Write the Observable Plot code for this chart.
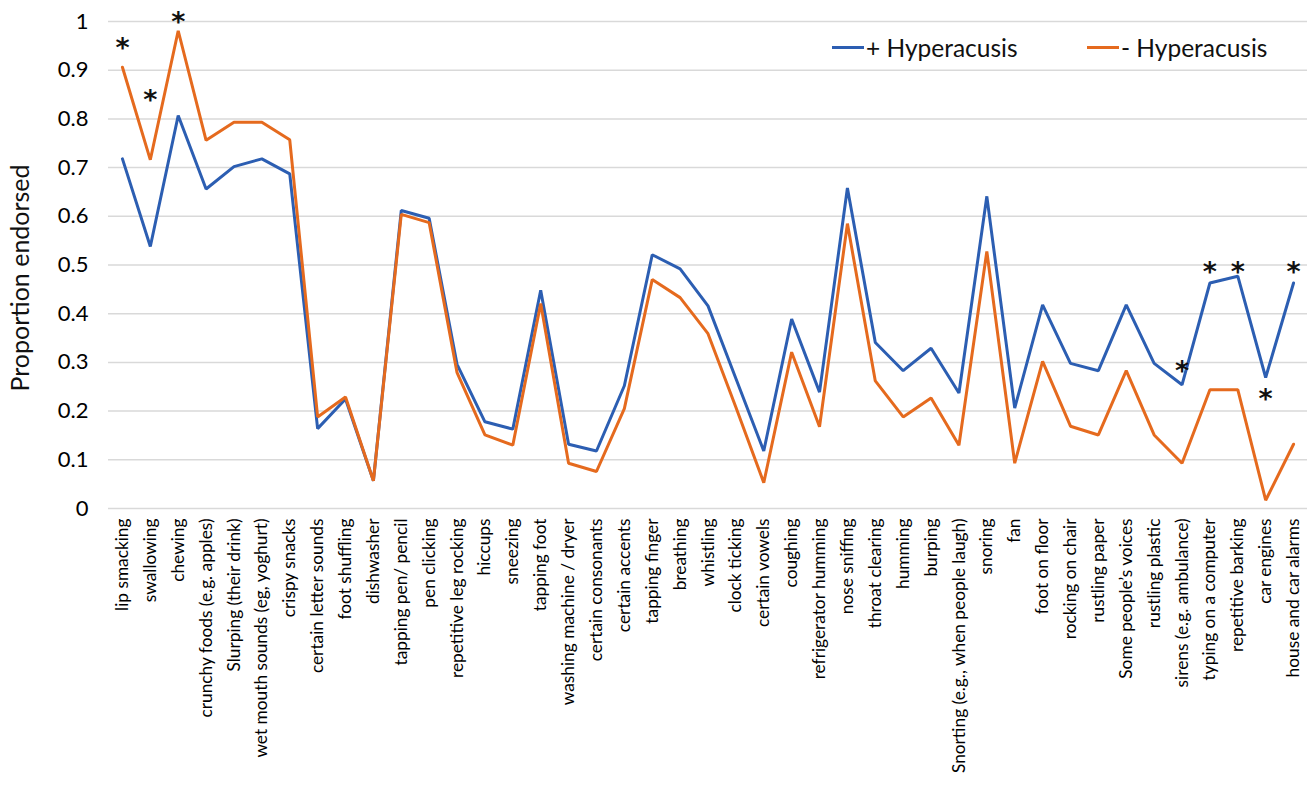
<!DOCTYPE html>
<html>
<head>
<meta charset="utf-8">
<script src="https://cdn.jsdelivr.net/npm/d3@7"></script>
<script src="https://cdn.jsdelivr.net/npm/@observablehq/plot@0.6"></script>
<style>
  html, body { margin: 0; padding: 0; background: #fff; }
  #wrap { position: relative; width: 1309px; height: 807px; font-family: Lato, "Open Sans", sans-serif; }
  .legend { position: absolute; top: 33px; left: 832px; width: 470px; display: flex; align-items: center; font-size: 24.5px; color: #111; white-space: nowrap; }
  .legend .item { display: flex; align-items: center; flex-shrink: 0; }
  .legend .item + .item { position: absolute; left: 255px; }
  .legend .swatch { width: 32px; height: 3px; margin-right: 2px; flex-shrink: 0; }
</style>
</head>
<body>
<div id="wrap"></div>
<script>
const categories = [
  "lip smacking", "swallowing", "chewing", "crunchy foods (e.g. apples)", "Slurping (their drink)",
  "wet mouth sounds (eg, yoghurt)", "crispy snacks", "certain letter sounds", "foot shuffling", "dishwasher",
  "tapping pen/ pencil", "pen clicking", "repetitive leg rocking", "hiccups", "sneezing",
  "tapping foot", "washing machine / dryer", "certain consonants", "certain accents", "tapping finger",
  "breathing", "whistling", "clock ticking", "certain vowels", "coughing",
  "refrigerator humming", "nose sniffing", "throat clearing", "humming", "burping",
  "Snorting (e.g., when people laugh)", "snoring", "fan", "foot on floor", "rocking on chair",
  "rustling paper", "Some people\u2019s voices", "rustling plastic", "sirens (e.g. ambulance)", "typing on a computer",
  "repetitive barking", "car engines", "house and car alarms"
];
const withHyperacusis = [
  0.718, 0.538, 0.807, 0.656, 0.702, 0.718, 0.687, 0.164, 0.225, 0.057,
  0.612, 0.596, 0.296, 0.178, 0.163, 0.448, 0.132, 0.118, 0.252, 0.521,
  0.492, 0.416, 0.267, 0.118, 0.389, 0.239, 0.658, 0.341, 0.283, 0.329,
  0.237, 0.641, 0.206, 0.418, 0.298, 0.283, 0.418, 0.298, 0.254, 0.463,
  0.477, 0.269, 0.463
];
const withoutHyperacusis = [
  0.906, 0.716, 0.981, 0.756, 0.793, 0.793, 0.757, 0.188, 0.229, 0.057,
  0.604, 0.587, 0.279, 0.151, 0.130, 0.421, 0.093, 0.076, 0.205, 0.470,
  0.433, 0.359, 0.208, 0.053, 0.321, 0.168, 0.585, 0.262, 0.188, 0.227,
  0.130, 0.528, 0.093, 0.302, 0.169, 0.151, 0.283, 0.151, 0.093, 0.244,
  0.244, 0.017, 0.132
];
const seriesNames = ["+ Hyperacusis", "- Hyperacusis"];
const seriesColors = ["#2c5eb2", "#e56a1e"];
const starCategories = ["lip smacking", "swallowing", "chewing", "sirens (e.g. ambulance)", "typing on a computer", "repetitive barking", "car engines", "house and car alarms"];
const starValues = [0.959, 0.853, 1.012, 0.296, 0.50, 0.50, 0.239, 0.50];
const yTicks = [0, 0.1, 0.2, 0.3, 0.4, 0.5, 0.6, 0.7, 0.8, 0.9, 1];

const rows = [];
categories.forEach((c, i) => {
  rows.push({cat: c, series: seriesNames[0], value: withHyperacusis[i]});
  rows.push({cat: c, series: seriesNames[1], value: withoutHyperacusis[i]});
});
const stars = starCategories.map((c, i) => ({cat: c, value: starValues[i]}));

const chart = Plot.plot({
  width: 1309,
  height: 807,
  marginLeft: 108,
  marginRight: 2,
  marginTop: 21,
  marginBottom: 299,
  style: {fontFamily: "Lato, 'Open Sans', sans-serif", fontSize: "17px", color: "#000", background: "#fff"},
  x: {type: "point", domain: categories, padding: 0.5, label: null},
  y: {domain: [0, 1], ticks: yTicks, label: null},
  color: {domain: seriesNames, range: seriesColors},
  marks: [
    Plot.gridY(yTicks, {stroke: "#d9d9d9", strokeOpacity: 1, strokeWidth: 1.5}),
    Plot.axisY(yTicks, {tickSize: 0, tickPadding: 20, fontSize: 22, tickFormat: d => String(+d.toFixed(1)), label: null}),
    Plot.axisX({tickSize: 0, tickPadding: 10, tickRotate: -90, fontSize: 17.3, label: null}),
    Plot.line(rows, {x: "cat", y: "value", z: "series", stroke: "series", strokeWidth: 3, strokeLinejoin: "miter"}),
    Plot.text(stars, {x: "cat", y: "value", text: () => "*", fontSize: 27, fontWeight: "bold", fill: "#111", dy: 7, fontFamily: "DejaVu Sans"}),
    Plot.text(["Proportion endorsed"], {frameAnchor: "left", dx: -88, dy: 13, rotate: -90, fontSize: 25, fill: "#111", textAnchor: "middle"})
  ]
});

const wrap = document.getElementById("wrap");
wrap.appendChild(chart);
const legend = document.createElement("div");
legend.className = "legend";
seriesNames.forEach((n, i) => {
  const item = document.createElement("div");
  item.className = "item";
  const sw = document.createElement("span");
  sw.className = "swatch";
  sw.style.background = seriesColors[i];
  const t = document.createElement("span");
  t.textContent = n;
  item.appendChild(sw);
  item.appendChild(t);
  legend.appendChild(item);
});
wrap.appendChild(legend);
</script>
</body>
</html>
